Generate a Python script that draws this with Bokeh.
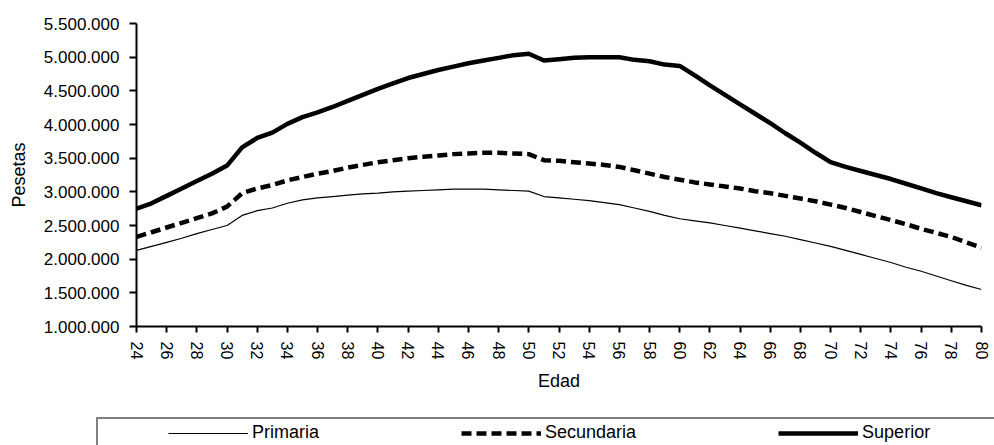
from bokeh.plotting import figure
from bokeh.layouts import column
from bokeh.models import Range1d, FixedTicker, Legend, LegendItem, ColumnDataSource
from bokeh.embed import file_html
from bokeh.resources import INLINE

# ---------------- data ----------------
edad = list(range(24, 81))

primaria = [
    2130000, 2190000, 2250000, 2310000, 2380000, 2440000, 2500000, 2650000, 2720000, 2760000,
    2830000, 2880000, 2910000, 2930000, 2950000, 2970000, 2980000, 3000000, 3010000, 3020000,
    3030000, 3040000, 3040000, 3040000, 3030000, 3020000, 3010000, 2930000, 2910000, 2890000,
    2870000, 2840000, 2810000, 2760000, 2710000, 2650000, 2600000, 2570000, 2540000, 2500000,
    2460000, 2420000, 2380000, 2340000, 2290000, 2240000, 2190000, 2130000, 2070000, 2010000,
    1950000, 1880000, 1820000, 1750000, 1680000, 1610000, 1550000,
]

secundaria = [
    2330000, 2400000, 2470000, 2540000, 2610000, 2680000, 2780000, 2980000, 3050000, 3100000,
    3170000, 3220000, 3270000, 3310000, 3360000, 3400000, 3440000, 3470000, 3500000, 3520000,
    3540000, 3560000, 3570000, 3580000, 3580000, 3570000, 3560000, 3470000, 3460000, 3440000,
    3420000, 3400000, 3370000, 3320000, 3270000, 3220000, 3180000, 3140000, 3110000, 3080000,
    3050000, 3010000, 2980000, 2940000, 2900000, 2860000, 2810000, 2760000, 2700000, 2640000,
    2580000, 2520000, 2450000, 2390000, 2330000, 2250000, 2170000,
]

superior = [
    2750000, 2830000, 2940000, 3050000, 3160000, 3270000, 3390000, 3660000, 3800000, 3880000,
    4010000, 4110000, 4180000, 4260000, 4350000, 4440000, 4530000, 4610000, 4690000, 4750000,
    4810000, 4860000, 4910000, 4950000, 4990000, 5030000, 5050000, 4950000, 4970000, 4990000,
    5000000, 5000000, 5000000, 4960000, 4940000, 4890000, 4870000, 4730000, 4580000, 4440000,
    4300000, 4160000, 4020000, 3870000, 3730000, 3580000, 3440000, 3370000, 3310000, 3250000,
    3190000, 3120000, 3050000, 2980000, 2920000, 2860000, 2800000,
]

x_ticks = list(range(24, 81, 2))
y_ticks = [1000000, 1500000, 2000000, 2500000, 3000000, 3500000, 4000000, 4500000, 5000000, 5500000]
y_tick_labels = ["1.000.000", "1.500.000", "2.000.000", "2.500.000", "3.000.000",
                 "3.500.000", "4.000.000", "4.500.000", "5.000.000", "5.500.000"]
series_names = ["Primaria", "Secundaria", "Superior"]
x_label = "Edad"
y_label = "Pesetas"

FONT = "Liberation Sans"

STYLES = [
    dict(line_color="black", line_width=1.2),
    dict(line_color="black", line_width=4.5, line_dash="10 5", line_cap="butt"),
    dict(line_color="black", line_width=4.5, line_join="round"),
]

# ---------------- main chart ----------------
p = figure(width=994, height=417, output_backend="svg", toolbar_location=None,
           x_range=Range1d(24, 80), y_range=Range1d(1000000, 5500000),
           min_border_left=136, min_border_right=13, min_border_top=23, min_border_bottom=91)
p.frame_align = False
p.outline_line_color = None
p.xgrid.visible = False
p.ygrid.visible = False
p.background_fill_color = "white"
p.border_fill_color = "white"

src = ColumnDataSource(dict(edad=edad, primaria=primaria, secundaria=secundaria, superior=superior))
for col_name, st in zip(["primaria", "secundaria", "superior"], STYLES):
    p.line("edad", col_name, source=src, **st)

xa = p.xaxis[0]
xa.ticker = FixedTicker(ticks=x_ticks)
xa.minor_tick_line_color = None
xa.major_tick_in = 0
xa.major_tick_out = 6
xa.major_tick_line_width = 2
xa.axis_line_width = 2
xa.major_label_orientation = "vertical"
xa.major_label_standoff = 9
xa.major_label_text_font = FONT
xa.major_label_text_font_size = "16px"
xa.major_label_text_color = "black"
xa.axis_label = x_label
xa.axis_label_text_font = FONT
xa.axis_label_text_font_size = "18px"
xa.axis_label_text_font_style = "normal"
xa.axis_label_text_color = "black"
xa.axis_label_standoff = 9

ya = p.yaxis[0]
ya.ticker = FixedTicker(ticks=y_ticks)
ya.major_label_overrides = {t: l for t, l in zip(y_ticks, y_tick_labels)}
ya.minor_tick_line_color = None
ya.major_tick_in = 0
ya.major_tick_out = 7
ya.major_tick_line_width = 2
ya.axis_line_width = 2
ya.major_label_standoff = 10
ya.major_label_text_font = FONT
ya.major_label_text_font_size = "17px"
ya.major_label_text_color = "black"
ya.axis_label = y_label
ya.axis_label_text_font = FONT
ya.axis_label_text_font_size = "18px"
ya.axis_label_text_font_style = "normal"
ya.axis_label_text_color = "black"
ya.axis_label_standoff = 12

# ---------------- legend strip ----------------
q = figure(width=994, height=28, output_backend="svg", toolbar_location=None,
           x_range=Range1d(0, 1), y_range=Range1d(0, 1),
           min_border_left=0, min_border_right=0, min_border_top=0, min_border_bottom=0,
           x_axis_type=None, y_axis_type=None)
q.frame_align = False
q.outline_line_color = None
q.xgrid.visible = False
q.ygrid.visible = False
q.background_fill_color = "white"
q.border_fill_color = "white"

# key renderers live outside the visible range; only their legend keys are seen
dummy = q.line(x=[-2, -1], y=[-2, -1], line_alpha=0)
key_renderers = [q.line(x=[-2, -1], y=[-2, -1], **st) for st in STYLES]

box = Legend(items=[LegendItem(label=" ", renderers=[dummy])],
             location=(96, -16), glyph_width=1, glyph_height=40, label_height=40,
             label_width=1100, padding=0, margin=0, border_line_color="black",
             border_line_width=2, background_fill_color="white", background_fill_alpha=1.0)
q.add_layout(box, "center")

legend = Legend(items=[LegendItem(label=n, renderers=[r]) for n, r in zip(series_names, key_renderers)],
                location=(168, 2), orientation="horizontal",
                glyph_width=80, glyph_height=20, label_height=20, label_width=0,
                label_standoff=4, spacing=142, padding=0, margin=0,
                label_text_font=FONT, label_text_font_size="18px", label_text_color="black",
                border_line_alpha=0, background_fill_alpha=0)
q.add_layout(legend, "center")

layout = column(p, q, spacing=0)
open("out.html", "w").write(file_html(layout, INLINE))
